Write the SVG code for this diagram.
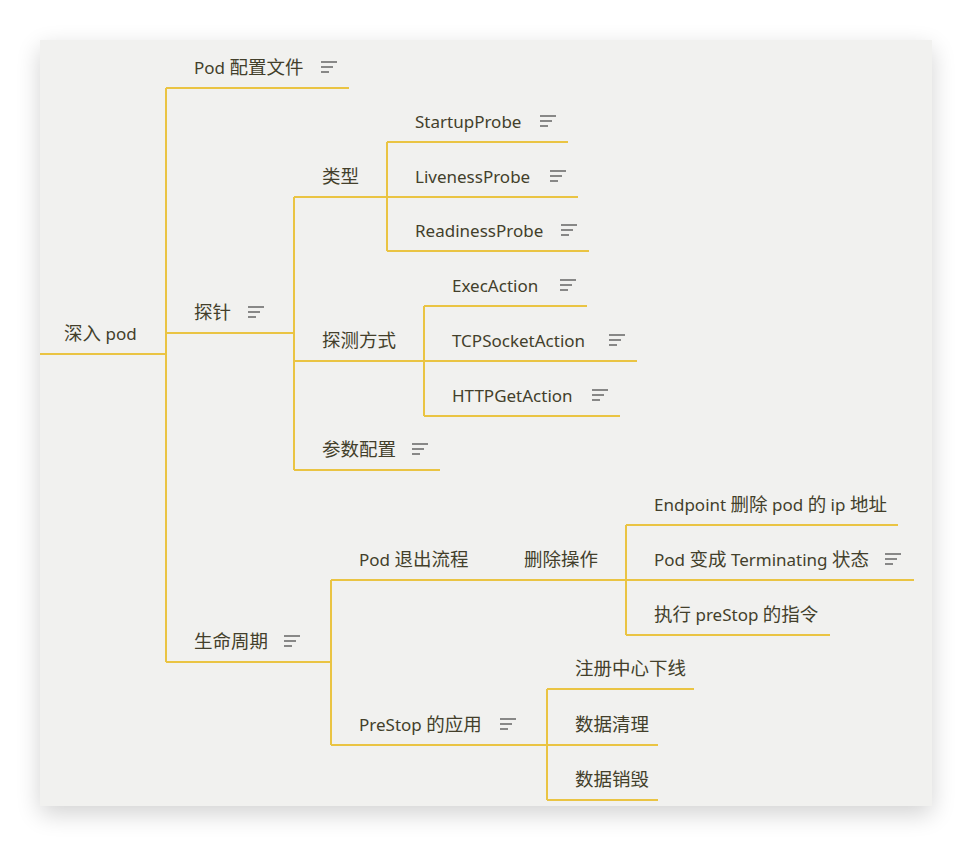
<svg xmlns="http://www.w3.org/2000/svg" width="972" height="846" viewBox="0 0 972 846">
<defs>
<filter id="sh" x="-10%" y="-10%" width="120%" height="125%">
<feGaussianBlur in="SourceAlpha" stdDeviation="12"/>
<feOffset dy="8"/>
<feComponentTransfer><feFuncA type="linear" slope="0.18"/></feComponentTransfer>
<feMerge><feMergeNode/><feMergeNode in="SourceGraphic"/></feMerge>
</filter>
<g id="note">
<path d="M0 -5H16M0 0H12M0 5H8" stroke="#666" stroke-width="1.6" fill="none"/>
</g>
</defs>
<style>
text{font-family:"Noto Sans","Noto Sans CJK SC",sans-serif;font-size:17px;fill:#433f2b}
.c{font-size:18.5px}
.ln{stroke:#eac443;stroke-width:2;fill:none}
</style>
<rect width="972" height="846" fill="#ffffff"/>
<rect x="40" y="40" width="892" height="766" fill="#f1f1ef" filter="url(#sh)"/>

<g id="connectors" class="ln">
<path d="M166 88V662"/>
<path d="M294 197V470"/>
<path d="M387 142V251"/>
<path d="M424 306V416"/>
<path d="M331 580V745"/>
<path d="M626 525V635"/>
<path d="M547 689V800"/>
</g>

<g id="root"><path class="ln" d="M40 354H166"/><text x="64" y="340"><tspan class="c">深入</tspan> pod</text></g>
<g id="pod-config"><path class="ln" d="M166 88H349"/><text x="194" y="74">Pod <tspan class="c">配置文件</tspan></text><use href="#note" x="321" y="67"/></g>
<g id="probe"><path class="ln" d="M166 333H294"/><text x="194" y="319" class="c">探针</text><use href="#note" x="248" y="312"/></g>
<g id="type"><path class="ln" d="M294 197H387"/><text x="322" y="183" class="c">类型</text></g>
<g id="startup"><path class="ln" d="M387 142H568"/><text x="415" y="128">StartupProbe</text><use href="#note" x="540" y="121"/></g>
<g id="liveness"><path class="ln" d="M387 197H578"/><text x="415" y="183">LivenessProbe</text><use href="#note" x="550" y="176"/></g>
<g id="readiness"><path class="ln" d="M387 251H589"/><text x="415" y="237">ReadinessProbe</text><use href="#note" x="561" y="230"/></g>
<g id="method"><path class="ln" d="M294 361H424"/><text x="322" y="347" class="c">探测方式</text></g>
<g id="exec"><path class="ln" d="M424 306H587"/><text x="452" y="292">ExecAction</text><use href="#note" x="560" y="285"/></g>
<g id="tcp"><path class="ln" d="M424 361H637"/><text x="452" y="347">TCPSocketAction</text><use href="#note" x="609" y="340"/></g>
<g id="http"><path class="ln" d="M424 416H620"/><text x="452" y="402">HTTPGetAction</text><use href="#note" x="592" y="395"/></g>
<g id="params"><path class="ln" d="M294 470H440"/><text x="322" y="456" class="c">参数配置</text><use href="#note" x="412" y="449"/></g>
<g id="lifecycle"><path class="ln" d="M166 662H331"/><text x="194" y="648" class="c">生命周期</text><use href="#note" x="284" y="641"/></g>
<g id="exit"><path class="ln" d="M331 580H496"/><text x="359" y="566">Pod <tspan class="c">退出流程</tspan></text></g>
<g id="delete"><path class="ln" d="M496 580H626"/><text x="524" y="566" class="c">删除操作</text></g>
<g id="endpoint"><path class="ln" d="M626 525H898"/><text x="654" y="511">Endpoint <tspan class="c">删除</tspan> pod <tspan class="c">的</tspan> ip <tspan class="c">地址</tspan></text></g>
<g id="terminating"><path class="ln" d="M626 580H914"/><text x="654" y="566">Pod <tspan class="c">变成</tspan> Terminating <tspan class="c">状态</tspan></text><use href="#note" x="885" y="559"/></g>
<g id="prestop-exec"><path class="ln" d="M626 635H830"/><text x="654" y="621"><tspan class="c">执行</tspan> preStop <tspan class="c">的指令</tspan></text></g>
<g id="prestop"><path class="ln" d="M331 745H547"/><text x="359" y="731">PreStop <tspan class="c">的应用</tspan></text><use href="#note" x="500" y="724"/></g>
<g id="registry"><path class="ln" d="M547 689H694"/><text x="575" y="675" class="c">注册中心下线</text></g>
<g id="clean"><path class="ln" d="M547 745H658"/><text x="575" y="731" class="c">数据清理</text></g>
<g id="destroy"><path class="ln" d="M547 800H658"/><text x="575" y="786" class="c">数据销毁</text></g>
</svg>
